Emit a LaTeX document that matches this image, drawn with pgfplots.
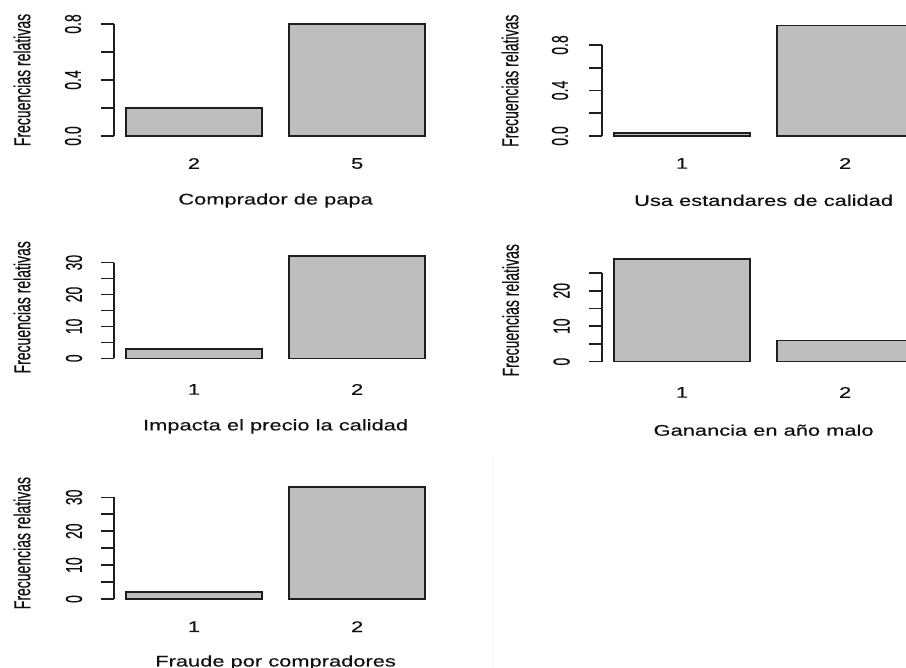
\documentclass[border=0pt]{standalone}
\usepackage{fontspec}
\setmainfont{Liberation Sans}
\newfontfamily\rfont{Liberation Sans}[FakeBold=0.35]
\usepackage{pgfplots}
\pgfplotsset{compat=1.18}
\definecolor{barfill}{HTML}{BEBEBE}
\definecolor{linecol}{HTML}{1E1E1E}
\definecolor{textcol}{HTML}{111111}
\newcommand{\hfont}{\rfont\fontsize{7.7}{9}\selectfont}
\newcommand{\vfont}{\rfont\fontsize{7}{8}\selectfont}
\tikzset{raxis/.style={draw=linecol, line width=0.8pt}}
\pgfplotsset{
  every axis x label/.style={at={(axis description cs:0.5,0)}, anchor=center, font=\hfont, text=textcol, xscale=1.42},
  every axis y label/.style={anchor=center, font=\vfont, text=textcol, rotate=90, yscale=1.65},
  rpanel/.style={
    scale only axis, width=161.6pt, anchor=south west,
    xmin=0.112, xmax=2.488,
    axis lines*=left, axis line style={draw=none},
    clip=false,
    tick align=outside, major tick length=6.5pt,
    xtick={0.7,1.9}, xtick style={draw=none},
    ytick style={draw=linecol, line width=0.8pt},
    xticklabel style={font=\hfont, text=textcol, xscale=1.42, anchor=center},
    yticklabel style={font=\vfont, text=textcol, rotate=90, yscale=1.65, anchor=center},
    ybar, bar width=1,
    ylabel={Frecuencias relativas},
  },
  rbar/.style={fill=barfill, draw=linecol, line width=0.8pt},
}
\begin{document}
\begin{tikzpicture}
\useasboundingbox (0,0) rectangle (453pt,334pt);
\clip (0,0) rectangle (453pt,334pt);
\draw[black!4, line width=0.5pt] (246.5pt,0) -- (246.5pt,106.5pt);

% Panel 1
\begin{axis}[rpanel, at={(57pt,263.75pt)}, height=60.5pt,
  ymin=-0.032, ymax=0.832,
  ytick={0,0.2,0.4,0.6,0.8}, yticklabels={0.0,,0.4,,0.8},
  xticklabels={2,5},
  xticklabel shift=5pt, yticklabel shift=14pt,
  xlabel={Comprador de papa}, xlabel style={yshift=-30pt},
  ylabel style={at={([xshift=-46pt]axis description cs:0,0.5)}}]
\addplot[rbar] coordinates {(0.7,0.2) (1.9,0.8)};
\draw[raxis] (axis cs:0.112,0) -- (axis cs:0.112,0.8);
\end{axis}

% Panel 2
\begin{axis}[rpanel, at={(301pt,263.8pt)}, height=59.65pt,
  ymin=-0.03886, ymax=1.0103,
  ytick={0,0.2,0.4,0.6,0.8}, yticklabels={0.0,,0.4,,0.8},
  xticklabels={1,2},
  xticklabel shift=5pt, yticklabel shift=14.5pt,
  xlabel={Usa estandares de calidad}, xlabel style={yshift=-30pt},
  ylabel style={at={([xshift=-46pt]axis description cs:0,0.5)}}]
\addplot[rbar] coordinates {(0.7,0.0286) (1.9,0.9714)};
\draw[raxis] (axis cs:0.112,0) -- (axis cs:0.112,0.8);
\end{axis}

% Panel 3
\begin{axis}[rpanel, at={(57pt,152.8pt)}, height=55.1pt,
  ymin=-1.28, ymax=33.28,
  ytick={0,5,...,30}, yticklabels={0,,10,,20,,30},
  xticklabels={1,2},
  xticklabel shift=7pt, yticklabel shift=13.5pt,
  xlabel={Impacta el precio la calidad}, xlabel style={yshift=-32pt},
  ylabel style={at={([xshift=-46pt]axis description cs:0,0.5)}}]
\addplot[rbar] coordinates {(0.7,3) (1.9,32)};
\draw[raxis] (axis cs:0.112,0) -- (axis cs:0.112,30);
\end{axis}

% Panel 4
\begin{axis}[rpanel, at={(301pt,151.1pt)}, height=55.55pt,
  ymin=-1.16, ymax=30.16,
  ytick={0,5,...,25}, yticklabels={0,,10,,20,},
  xticklabels={1,2},
  xticklabel shift=6.8pt, yticklabel shift=13.7pt,
  xlabel={Ganancia en año malo}, xlabel style={yshift=-32.2pt},
  ylabel style={at={([xshift=-45.7pt]axis description cs:0,0.5)}}]
\addplot[rbar] coordinates {(0.7,29) (1.9,6)};
\draw[raxis] (axis cs:0.112,0) -- (axis cs:0.112,25);
\end{axis}

% Panel 5
\begin{axis}[rpanel, at={(57pt,32.25pt)}, height=60.4pt,
  ymin=-1.32, ymax=34.32,
  ytick={0,5,...,30}, yticklabels={0,,10,,20,,30},
  xticklabels={1,2},
  xticklabel shift=5.1pt, yticklabel shift=13.5pt,
  xlabel={Fraude por compradores}, xlabel style={yshift=-29.5pt},
  ylabel style={at={([xshift=-46pt]axis description cs:0,0.5)}}]
\addplot[rbar] coordinates {(0.7,2) (1.9,33)};
\draw[raxis] (axis cs:0.112,0) -- (axis cs:0.112,30);
\end{axis}
\end{tikzpicture}
\end{document}
